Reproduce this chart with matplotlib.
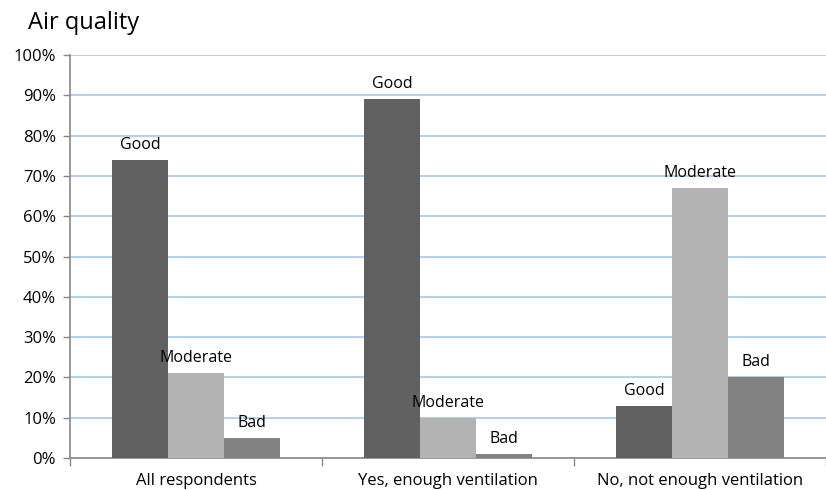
import matplotlib
matplotlib.use("Agg")
import matplotlib.pyplot as plt
import numpy as np

categories = ["All respondents", "Yes, enough ventilation", "No, not enough ventilation"]
series_names = ["Good", "Moderate", "Bad"]
good = [74, 89, 13]
moderate = [21, 10, 67]
bad = [5, 1, 20]
yticks = [0, 10, 20, 30, 40, 50, 60, 70, 80, 90, 100]

colors = ["#616161", "#b3b3b3", "#828282"]

plt.rcParams['font.family'] = ['Open Sans', 'DejaVu Sans']

fig = plt.figure(figsize=(8.26, 4.9), dpi=100)
ax = fig.add_axes([70/826, (490-458)/490, (826-70)/826, (458-55)/490])

x = np.arange(len(categories))
w = 57/256.5
for i, (name, vals) in enumerate(zip(series_names, [good, moderate, bad])):
    pos = x + (i - 1) * w
    ax.bar(pos, vals, width=w, color=colors[i], zorder=3)
    for p, v in zip(pos, vals):
        ax.annotate(name, (p, v), xytext=(0, 5), textcoords="offset points",
                    ha="center", va="bottom", fontsize=11.5, color="black")

ax.set_ylim(0, 100)
ax.set_xlim(-0.5, -0.5 + 756/256.5)
ax.set_yticks(yticks)
ax.set_yticklabels([f"{t}%" for t in yticks], fontsize=12)
ax.yaxis.grid(True, color="#a8c8ee", linewidth=1.2, zorder=0)
ax.set_axisbelow(True)

ax.set_xticks(x)
ax.set_xticklabels(categories, fontsize=12)
ax.tick_params(axis="x", length=0, pad=11)
ax.set_xticks([-0.5, 0.5, 1.5, 2.5], minor=True)
ax.tick_params(axis="x", which="minor", length=6, color="#888888", width=1)
ax.tick_params(axis="y", length=5, color="#888888", width=1, pad=5)

for s in ["top", "right"]:
    ax.spines[s].set_visible(False)
for s in ["left", "bottom"]:
    ax.spines[s].set_color("#888888")
    ax.spines[s].set_linewidth(1.2)

fig.text(28/826, 1 - 23/490, "Air quality", fontsize=17, ha="left", va="center")

fig.savefig("out.png", dpi=100)
